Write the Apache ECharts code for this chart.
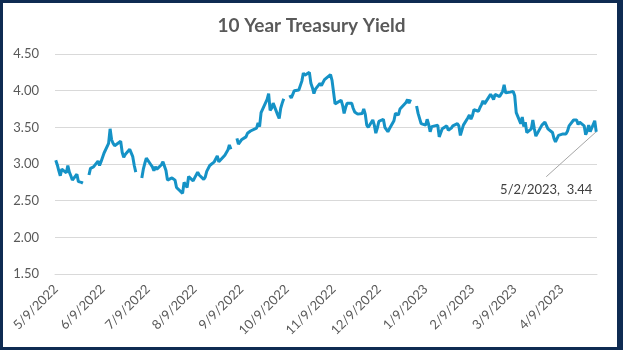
<!DOCTYPE html>
<html>
<head>
<meta charset="utf-8">
<script src="https://cdn.jsdelivr.net/npm/echarts@6/dist/echarts.min.js"></script>
<style>
html,body{margin:0;padding:0;background:#fff;}
#c{width:623px;height:350px;}
</style>
</head>
<body>
<div id="c"></div>
<script>
// Business-day yields per month (null = blank row -> gap in line)
var may22 = [3.05,2.99,2.91,2.84,2.93,2.88,2.98,2.89,2.84,2.78,2.86,2.76,2.75,2.75,2.74,null,2.85];
var jun22 = [2.94,2.92,2.96,3.04,2.98,3.03,3.04,3.15,3.28,3.48,3.33,3.28,3.25,3.31,3.16,3.09,3.13,3.20,3.20,3.10,2.98];
var jul22 = [2.89,null,2.81,2.93,3.01,3.08,2.99,2.96,2.91,2.96,2.93,2.99,3.03,3.04,2.91,2.78,2.81,2.81,2.78,2.68,2.67];
var aug22 = [2.60,2.75,2.73,2.68,2.83,2.77,2.81,2.79,2.89,2.85,2.79,2.82,2.90,2.88,2.98,3.03,3.05,3.11,3.03,3.04,3.12,3.11,3.19];
var sep22 = [3.26,3.20,null,3.35,3.27,3.29,3.33,3.37,3.42,3.41,3.45,3.45,3.49,3.56,3.51,3.70,3.69,3.88,3.96,3.73,3.76,3.83];
var oct22 = [3.67,3.62,3.76,3.83,3.89,null,3.94,3.90,3.95,4.00,4.01,4.00,4.13,4.24,4.21,4.25,4.10,4.04,3.96,4.02,4.10];
var nov22 = [4.07,4.06,4.15,4.17,4.22,4.14,4.12,3.82,3.87,3.80,3.69,3.77,3.83,3.83,3.76,3.71,3.68,3.69,3.75,3.68];
var dec22 = [3.53,3.50,3.60,3.53,3.42,3.49,3.58,3.61,3.50,3.48,3.44,3.48,3.59,3.69,3.68,3.67,3.75,3.84,3.88,3.83,3.88];
var jan23 = [null,3.79,3.69,3.71,3.55,3.53,3.61,3.54,3.44,3.51,3.53,3.37,3.39,3.48,3.52,3.46,3.45,3.49,3.52,3.55,3.52];
var feb23 = [3.39,3.39,3.53,3.63,3.67,3.61,3.66,3.74,3.72,3.77,3.81,3.86,3.82,3.95,3.92,3.88,3.95,3.92,3.92];
var mar23 = [3.99,4.08,3.97,3.98,3.97,3.99,3.93,3.70,3.55,3.64,3.51,3.57,3.43,3.48,3.60,3.48,3.38,3.38,3.53,3.55,3.57,3.55,3.48];
var apr23 = [3.43,3.35,3.30,3.31,3.39,3.41,3.43,3.41,3.45,3.52,3.60,3.59,3.60,3.54,3.57,3.52,3.40,3.45,3.53,3.44];
var may23 = [3.59,3.44];

// Holidays with no row at all in the source (line connects across them)
var skippedDays = ['6/20/2022','11/11/2022','11/24/2022','12/26/2022','1/16/2023','2/20/2023'];
var startDate = '2022-05-09';
var endDate = '2023-05-02';
var labelDay = 9; // axis labels on the 9th of each month

function fmt(d){ return (d.getUTCMonth()+1)+'/'+d.getUTCDate()+'/'+d.getUTCFullYear(); }

// calendar categories
var categories = [];
var businessIdx = [];
(function(){
  var d = new Date(startDate+'T00:00:00Z');
  var e = new Date(endDate+'T00:00:00Z');
  var i = 0;
  while (d <= e) {
    var s = fmt(d);
    categories.push(s);
    var wd = d.getUTCDay();
    if (wd !== 0 && wd !== 6 && skippedDays.indexOf(s) < 0) businessIdx.push(i);
    d = new Date(d.getTime()+86400000);
    i++;
  }
})();

var values = [].concat(may22,jun22,jul22,aug22,sep22,oct22,nov22,dec22,jan23,feb23,mar23,apr23,may23);
var seriesData = [];
for (var k = 0; k < values.length && k < businessIdx.length; k++) {
  seriesData.push([businessIdx[k], values[k]]);
}
var lastIdx = seriesData.length - 1;
var lastPoint = seriesData[lastIdx].slice();
seriesData[lastIdx] = {
  value: seriesData[lastIdx],
  symbolSize: 1,
  label: {
    show: true,
    position: 'top',
    formatter: function(p){ return categories[p.value[0]] + ',  ' + p.value[1].toFixed(2); },
    color: '#404040', fontSize: 13, fontFamily: 'Lato'
  }
};

var chart = echarts.init(document.getElementById('c'), null, {renderer:'canvas'});
chart.setOption({
  animation: false,
  backgroundColor: '#ffffff',
  title: {
    text: '10 Year Treasury Yield',
    left: 'center', top: 11,
    textStyle: {fontFamily: 'Lato', fontWeight: 'bold', fontSize: 19, color: '#595959'}
  },
  graphic: [
    {type:'rect', shape:{x:0,y:0,width:623,height:3}, style:{fill:'#0e2b52'}, z:100},
    {type:'rect', shape:{x:0,y:347,width:623,height:3}, style:{fill:'#0e2b52'}, z:100},
    {type:'rect', shape:{x:0,y:0,width:3,height:350}, style:{fill:'#0e2b52'}, z:100},
    {type:'rect', shape:{x:617,y:0,width:6,height:350}, style:{fill:'#0e2b52'}, z:100}
  ],
  grid: {left: 55, right: 26, top: 54, bottom: 76, containLabel: false},
  xAxis: {
    type: 'category',
    data: categories,
    boundaryGap: true,
    axisLine: {show: true, lineStyle: {color: '#d9d9d9'}},
    axisTick: {show: false},
    axisLabel: {
      rotate: 45,
      margin: 13,
      color: '#595959',
      fontFamily: 'Lato',
      fontSize: 13,
      interval: function(i, v){ return v.split('/')[1] === String(labelDay); }
    },
    splitLine: {show: false}
  },
  yAxis: {
    type: 'value',
    min: 1.5, max: 4.5, interval: 0.5,
    axisLine: {show: false},
    axisTick: {show: false},
    axisLabel: {
      color: '#595959', fontFamily: 'Lato', fontSize: 13, margin: 16,
      formatter: function(v){ return v.toFixed(2); }
    },
    splitLine: {lineStyle: {color: '#d9d9d9', width: 1}}
  },
  series: [{
    type: 'line',
    data: seriesData,
    showSymbol: true,
    showAllSymbol: true,
    symbol: 'circle',
    symbolSize: 0,
    connectNulls: false,
    lineStyle: {color: '#1592c6', width: 3},
    itemStyle: {color: '#1592c6'},
    labelLayout: function(p){
      if (p.dataIndex === lastIdx) return {dx: -50, dy: 70};
      return {};
    }
  }]
});

// leader line from the last data point (pixel position via the chart's own scales)
var pt = chart.convertToPixel({seriesIndex: 0}, lastPoint);
chart.setOption({
  graphic: [
    {type:'rect', shape:{x:0,y:0,width:623,height:3}, style:{fill:'#0e2b52'}, z:100},
    {type:'rect', shape:{x:0,y:347,width:623,height:3}, style:{fill:'#0e2b52'}, z:100},
    {type:'rect', shape:{x:0,y:0,width:3,height:350}, style:{fill:'#0e2b52'}, z:100},
    {type:'rect', shape:{x:617,y:0,width:6,height:350}, style:{fill:'#0e2b52'}, z:100},
    {type:'line', shape:{x1: pt[0], y1: pt[1], x2: pt[0]-50, y2: pt[1]+45},
     style:{stroke:'#a6a6a6', lineWidth: 1}, z: 1}
  ]
});
</script>
</body>
</html>
